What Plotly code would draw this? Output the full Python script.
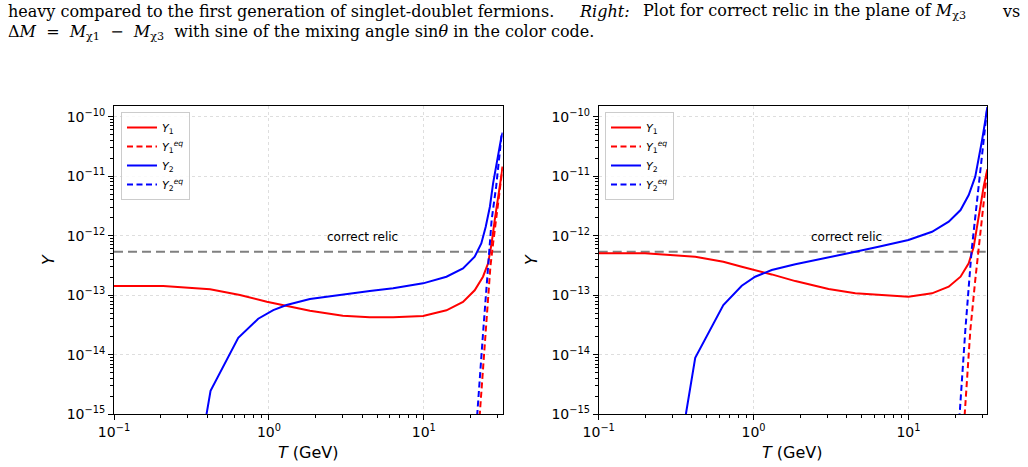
import numpy as np
import plotly.graph_objects as go

# ---------------- data ----------------
# Left panel
T_L_Y1 = [0.1, 0.208, 0.417, 0.65, 0.97, 1.30, 1.84, 3.0, 4.47, 6.34, 9.89, 14.0, 17.9, 21.3,
          24.1, 26.0, 27.4, 28.7, 30.2, 31.7, 32.3]
Y_L_Y1 = [1.43e-13, 1.43e-13, 1.26e-13, 1.01e-13, 7.76e-14, 6.61e-14, 5.50e-14, 4.52e-14, 4.27e-14,
          4.26e-14, 4.48e-14, 5.58e-14, 7.71e-14, 1.21e-13, 2.05e-13, 3.44e-13, 7.48e-13, 1.84e-12,
          4.52e-12, 1.20e-11, 1.45e-11]
T_L_Y2 = [0.207, 0.42, 0.634, 0.853, 1.067, 1.30, 1.84, 3.02, 4.48, 6.34, 9.89, 14.0, 17.9, 21.3,
          23.5, 25.1, 26.7, 28.0, 29.7, 31.7, 32.3]
Y_L_Y2 = [5.6e-20, 2.48e-15, 1.93e-14, 4.03e-14, 5.64e-14, 6.84e-14, 8.63e-14, 1.035e-13, 1.18e-13,
          1.31e-13, 1.585e-13, 2.05e-13, 2.83e-13, 4.44e-13, 7.43e-13, 1.42e-12, 3.07e-12, 7.59e-12,
          1.87e-11, 4.61e-11, 5.4e-11]
T_L_Y1eq = [22.0, 22.96, 25.1, 26.9, 28.0, 30.0, 31.7, 32.3]
Y_L_Y1eq = [2.1e-16, 1.0e-15, 2.60e-14, 3.02e-13, 7.41e-13, 3.5e-12, 1.20e-11, 1.45e-11]
T_L_Y2eq = [21.0, 22.1, 24.2, 27.4, 29.3, 31.7, 32.3]
Y_L_Y2eq = [1.5e-16, 1.0e-15, 2.60e-14, 1.84e-12, 6.67e-12, 4.61e-11, 5.4e-11]

# Right panel
T_R_Y1 = [0.1, 0.199, 0.42, 0.638, 0.839, 1.024, 1.31, 1.86, 3.05, 4.54, 6.41, 10.0, 14.2, 18.2,
          21.7, 24.5, 26.4, 27.7, 29.2, 30.6, 32.3]
Y_R_Y1 = [5.06e-13, 5.06e-13, 4.44e-13, 3.66e-13, 3.01e-13, 2.65e-13, 2.24e-13, 1.73e-13, 1.27e-13,
          1.076e-13, 1.007e-13, 9.44e-14, 1.076e-13, 1.39e-13, 2.05e-13, 3.44e-13, 6.53e-13,
          1.42e-12, 3.07e-12, 6.67e-12, 1.3e-11]
T_R_Y2 = [0.199, 0.42, 0.638, 0.839, 1.024, 1.31, 1.86, 3.05, 4.54, 6.41, 10.0, 14.2, 18.2, 21.7,
          24.5, 27.0, 28.4, 29.9, 31.4, 32.3]
Y_R_Y2 = [7.2e-20, 8.9e-15, 6.84e-14, 1.445e-13, 2.05e-13, 2.65e-13, 3.31e-13, 4.27e-13, 5.38e-13,
          6.53e-13, 8.47e-13, 1.167e-12, 1.72e-12, 2.70e-12, 4.83e-12, 9.82e-12, 1.87e-11, 4.06e-11,
          8.81e-11, 1.45e-10]
T_R_Y1eq = [22.2, 23.1, 25.1, 27.0, 29.2, 31.1, 32.3]
Y_R_Y1eq = [2.2e-16, 1.0e-15, 2.60e-14, 1.80e-13, 1.10e-12, 5.89e-12, 1.3e-11]
T_R_Y2eq = [20.5, 21.4, 23.3, 25.6, 27.7, 29.9, 32.3]
Y_R_Y2eq = [1.9e-16, 1.0e-15, 2.60e-14, 5.75e-13, 3.98e-12, 2.75e-11, 1.45e-10]

relic_Y = 5.4e-13
relic_T_span = [0.1, 32.3]
relic_label = "correct relic"
relic_label_pos = [4.0, 9.5e-13]

T_range = [0.1, 32.3]
Y_range = [1e-15, 1.53e-10]

xtick_vals = [0.1, 1, 10]
xtick_text = ["10<sup>−1</sup>", "10<sup>0</sup>", "10<sup>1</sup>"]
ytick_vals = [1e-15, 1e-14, 1e-13, 1e-12, 1e-11, 1e-10]
ytick_text = ["10<sup>−15</sup>", "10<sup>−14</sup>", "10<sup>−13</sup>",
              "10<sup>−12</sup>", "10<sup>−11</sup>", "10<sup>−10</sup>"]

names = ["<i>Y</i><sub>1</sub>", "<i>Y</i><sub>1</sub><sup><i>eq</i></sup>",
         "<i>Y</i><sub>2</sub>", "<i>Y</i><sub>2</sub><sup><i>eq</i></sup>"]

caption_1a = "heavy compared to the first generation of singlet-doublet fermions."
caption_1b = "<i>Right:</i>"
caption_1c = "Plot for correct relic in the plane of <i>M</i><sub>χ3</sub>"
caption_1d = "vs"
caption_2 = ("Δ<i>M</i>&nbsp;&nbsp;=&nbsp;&nbsp;<i>M</i><sub>χ1</sub>&nbsp;&nbsp;−&nbsp;&nbsp;"
             "<i>M</i><sub>χ3</sub>&nbsp; with sine of the "
             "mixing angle sin<i>θ</i> in the color code.")

# ---------------- figure ----------------
W, H = 1028, 467
RED, BLUE, GRAY = "#ff0000", "#0000ff", "#808080"
FONT = "DejaVu Sans"

fig = go.Figure()


def add(T, Y, color, dash, name, xa, ya, legend, show=True):
    fig.add_trace(go.Scatter(x=T, y=Y, mode="lines", name=name, xaxis=xa, yaxis=ya,
                             legend=legend, showlegend=show,
                             line=dict(color=color, width=2, dash=dash)))


panels = [
    ("x", "y", "legend", (T_L_Y1, Y_L_Y1, T_L_Y1eq, Y_L_Y1eq, T_L_Y2, Y_L_Y2, T_L_Y2eq, Y_L_Y2eq)),
    ("x2", "y2", "legend2", (T_R_Y1, Y_R_Y1, T_R_Y1eq, Y_R_Y1eq, T_R_Y2, Y_R_Y2, T_R_Y2eq, Y_R_Y2eq)),
]
for xa, ya, lg, d in panels:
    add(relic_T_span, [relic_Y, relic_Y], GRAY, "9px,5px", "relic", xa, ya, lg, show=False)
    add(d[0], d[1], RED, "solid", names[0], xa, ya, lg)
    add(d[2], d[3], RED, "6px,3.5px", names[1], xa, ya, lg)
    add(d[4], d[5], BLUE, "solid", names[2], xa, ya, lg)
    add(d[6], d[7], BLUE, "6px,3.5px", names[3], xa, ya, lg)

minor_x = [m * 10.0 ** e for e in (-1, 0, 1) for m in range(2, 10) if m * 10.0 ** e < 32.3]
minor_y = [m * 10.0 ** e for e in range(-15, -9) for m in range(2, 10) if m * 10.0 ** e < 1.5e-10]

x_dom = [[114 / W, 502.7 / W], [598.7 / W, 987.3 / W]]
y_dom = [1 - 414.3 / H, 1 - 105.7 / H]

common = dict(type="log", ticks="outside", ticklen=5, tickwidth=1, tickcolor="black",
              showline=True, linecolor="black", linewidth=1, mirror=True,
              showgrid=True, gridcolor="#dedede", griddash="3px,3px", gridwidth=1,
              zeroline=False, automargin=False,
              tickfont=dict(family=FONT, size=14, color="black"))

layout_axes = {}
for i, (xa, ya) in enumerate([("xaxis", "yaxis"), ("xaxis2", "yaxis2")]):
    layout_axes[xa] = dict(common, domain=x_dom[i], anchor="y" if i == 0 else "y2",
                           range=[np.log10(T_range[0]), np.log10(T_range[1])],
                           tickmode="array", tickvals=xtick_vals, ticktext=xtick_text,
                           minor=dict(tickmode="array", tickvals=minor_x, ticks="outside",
                                      ticklen=3, tickcolor="black", showgrid=False))
    layout_axes[ya] = dict(common, domain=y_dom, anchor="x" if i == 0 else "x2",
                           range=[np.log10(Y_range[0]), np.log10(Y_range[1])],
                           tickmode="array", tickvals=ytick_vals, ticktext=ytick_text,
                           minor=dict(tickmode="array", tickvals=minor_y, ticks="outside",
                                      ticklen=3, tickcolor="black", showgrid=False))

legend_common = dict(bgcolor="rgba(255,255,255,0.85)", bordercolor="#cccccc", borderwidth=1,
                     font=dict(family=FONT, size=11, color="black"), xanchor="left", yanchor="top",
                     tracegroupgap=0, itemwidth=30)

annotations = []
for i, (xr, yr) in enumerate([("x", "y"), ("x2", "y2")]):
    annotations.append(dict(x=np.log10(relic_label_pos[0]), y=np.log10(relic_label_pos[1]),
                            xref=xr, yref=yr, text=relic_label, showarrow=False,
                            font=dict(family=FONT, size=12, color="black"),
                            xanchor="center", yanchor="middle"))
    cx = (x_dom[i][0] + x_dom[i][1]) / 2
    annotations.append(dict(x=cx, y=1 - 452 / H, xref="paper", yref="paper",
                            text="<i>T</i> (GeV)", showarrow=False,
                            font=dict(family=FONT, size=16, color="black"),
                            xanchor="center", yanchor="middle"))
for xl in (48, 531):
    annotations.append(dict(x=xl / W, y=1 - 260 / H, xref="paper", yref="paper", text="<i>Y</i>",
                            showarrow=False, textangle=-90,
                            font=dict(family=FONT, size=16, color="black"),
                            xanchor="center", yanchor="middle"))

SERIF = "DejaVu Serif"
cap_font = dict(family=SERIF, size=16, color="black")
for txt, xp, yp, anc in [(caption_1a, 6, 12, "left"), (caption_1b, 577, 12, "left"),
                         (caption_1c, 641, 12, "left"), (caption_1d, 1022, 12, "right"),
                         (caption_2, 6, 33, "left")]:
    annotations.append(dict(x=xp / W, y=1 - yp / H, xref="paper", yref="paper", text=txt,
                            showarrow=False, font=cap_font, xanchor=anc, yanchor="middle"))

fig.update_layout(
    width=W, height=H, margin=dict(l=0, r=0, t=0, b=0, autoexpand=False),
    paper_bgcolor="white", plot_bgcolor="white",
    font=dict(family=FONT, color="black"),
    legend=dict(legend_common, x=121 / W, y=1 - 112 / H),
    legend2=dict(legend_common, x=605 / W, y=1 - 112 / H),
    annotations=annotations,
    **layout_axes,
)

fig.write_html("out.html")
